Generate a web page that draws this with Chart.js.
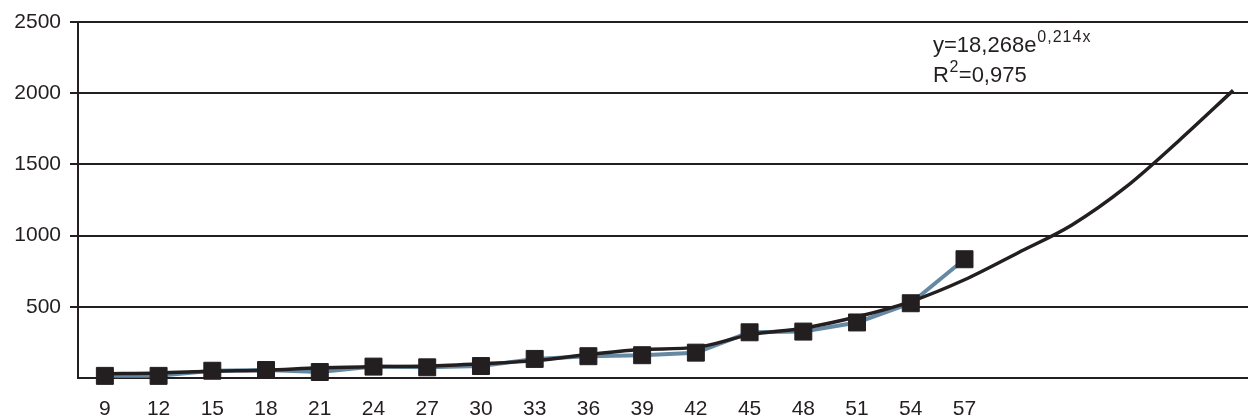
<!DOCTYPE html>
<html>
<head>
<meta charset="utf-8">
<script src="https://cdn.jsdelivr.net/npm/chart.js@4.4.1/dist/chart.umd.min.js"></script>
<style>
  html, body { margin: 0; padding: 0; background: #ffffff; overflow: hidden; }
  #wrap { position: relative; width: 1260px; height: 428px; }
</style>
</head>
<body>
<div id="wrap"><canvas id="chart" width="1260" height="428"></canvas></div>
<script>
// Ages on the category axis
const ages = [9, 12, 15, 18, 21, 24, 27, 30, 33, 36, 39, 42, 45, 48, 51, 54, 57];
// Unlabelled slots the trend line is projected into
const forecastSlots = ['', '', '', '', ''];
// Measured values
const observed = [15, 15, 51, 56, 42, 80, 75, 84, 134, 153, 160, 178, 321, 326, 390, 525, 834];
// Exponential trend, including the forward projection
const trend = [30, 35, 48, 55, 72, 80, 84, 100, 122, 165, 200, 215, 303, 350, 430, 537, 690, 880, 1075, 1340, 1670, 2020];
// Value-axis ticks
const yTicks = [0, 500, 1000, 1500, 2000, 2500];
// Fit annotation
const equationText = { base: 'y=18,268e', power: '0,214x' };
const fitText = { base: 'R', power: '2', rest: '=0,975' };

const INK = '#231f20';
const BLUE = '#6689a3';
const FONT = "'Liberation Sans', Arial, sans-serif";

const fitLabel = {
  id: 'fitLabel',
  afterDraw(chart) {
    const c = chart.ctx;
    c.save();
    c.fillStyle = INK;
    c.textBaseline = 'alphabetic';
    c.textAlign = 'left';
    const x0 = 933;
    // equation line
    c.font = '22px ' + FONT;
    c.fillText(equationText.base, x0, 52);
    const w = c.measureText(equationText.base).width;
    c.font = '16px ' + FONT;
    c.letterSpacing = '1px';
    c.fillText(equationText.power, x0 + w + 1, 42);
    c.letterSpacing = '0px';
    // coefficient of determination
    c.font = '22px ' + FONT;
    c.fillText(fitText.base, x0, 82);
    const wr = c.measureText(fitText.base).width;
    c.font = '16px ' + FONT;
    c.fillText(fitText.power, x0 + wr + 0.5, 72);
    const wp = c.measureText(fitText.power).width;
    c.font = '22px ' + FONT;
    c.fillText(fitText.rest, x0 + wr + wp + 1, 82);
    c.restore();
  }
};

new Chart(document.getElementById('chart'), {
  type: 'line',
  data: {
    labels: ages.map(String).concat(forecastSlots),
    datasets: [
      {
        label: 'observed points',
        data: observed,
        showLine: false,
        pointStyle: 'rect',
        pointRadius: 12,
        pointBorderWidth: 1,
        pointBackgroundColor: INK,
        pointBorderColor: INK,
        clip: false,
        order: 0
      },
      {
        label: 'trend',
        data: trend,
        borderColor: INK,
        borderWidth: 3.5,
        pointRadius: 0,
        cubicInterpolationMode: 'monotone',
        fill: false,
        order: 1
      },
      {
        label: 'observed',
        data: observed,
        borderColor: BLUE,
        borderWidth: 4,
        pointRadius: 0,
        tension: 0,
        fill: false,
        order: 2
      }
    ]
  },
  options: {
    responsive: false,
    animation: false,
    devicePixelRatio: 1,
    events: [],
    layout: { autoPadding: false, padding: { top: 22, right: 0, left: 0, bottom: 0 } },
    plugins: { legend: { display: false }, tooltip: { enabled: false }, title: { display: false } },
    scales: {
      x: {
        type: 'category',
        offset: true,
        grid: { display: false, drawTicks: false },
        border: { display: true, color: INK, width: 2 },
        ticks: {
          color: INK,
          font: { family: FONT, size: 21 },
          padding: 19,
          autoSkip: false,
          maxRotation: 0
        },
        afterFit(scale) { scale.height = 50; }
      },
      y: {
        min: 0,
        max: 2500,
        afterBuildTicks(scale) { scale.ticks = yTicks.map(v => ({ value: v })); },
        grid: {
          color: INK,
          lineWidth: 2,
          drawTicks: true,
          tickLength: 8,
          tickWidth: 2,
          tickColor: ctx => (ctx.tick && ctx.tick.value === 0) ? 'rgba(0,0,0,0)' : INK
        },
        border: { display: true, color: INK, width: 2 },
        ticks: {
          color: INK,
          font: { family: FONT, size: 21 },
          padding: 9,
          callback: v => (v === 0 ? '' : String(v))
        },
        afterFit(scale) { scale.width = 78; }
      }
    }
  },
  plugins: [fitLabel]
});
</script>
</body>
</html>
